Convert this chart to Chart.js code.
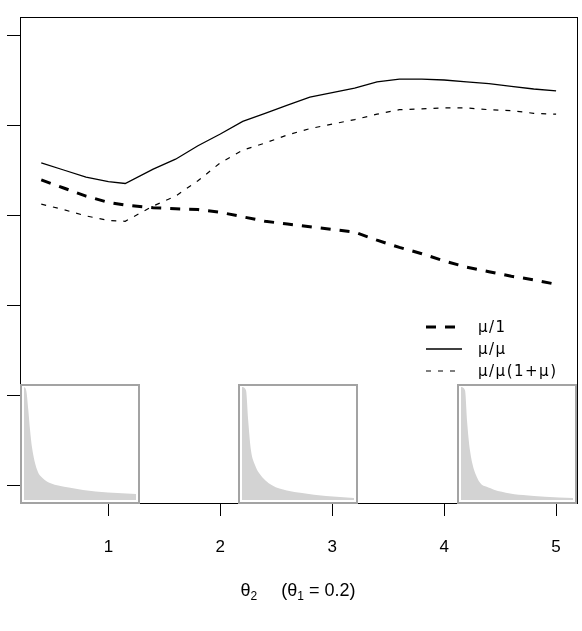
<!DOCTYPE html>
<html><head><meta charset="utf-8">
<script src="https://cdn.jsdelivr.net/npm/chart.js@4.4.1/dist/chart.umd.min.js"></script>
<style>
html,body{margin:0;padding:0;background:#fff;}
#wrap{position:relative;width:582px;height:631px;overflow:hidden;font-family:'Liberation Sans',Arial,sans-serif;}
#main{position:absolute;left:0;top:0;}
.inset{position:absolute;top:384px;width:120px;height:120px;box-sizing:border-box;border:2px solid #a3a3a3;background:#fff;}
.inset canvas{display:block;}
.lg{position:absolute;left:426px;height:20px;font-family:'DejaVu Sans',sans-serif;font-size:15px;letter-spacing:1.5px;line-height:20px;color:#000;white-space:nowrap;}
.lg svg{position:absolute;left:0;top:0;}
.lg span{position:absolute;left:52px;top:0;}
#xtitle{position:absolute;left:198px;top:580px;width:200px;text-align:center;font-size:18px;line-height:20px;color:#000;white-space:nowrap;}
#xtitle sub{font-size:12px;vertical-align:-4px;line-height:0;}
</style></head>
<body>
<div id="wrap">
<canvas id="main" width="582" height="631"></canvas>
<div class="inset" style="left:20px"><canvas id="in1" width="116" height="116"></canvas></div>
<div class="inset" style="left:238px"><canvas id="in2" width="116" height="116"></canvas></div>
<div class="inset" style="left:457px"><canvas id="in3" width="116" height="116"></canvas></div>
<div id="legend"></div>
<div id="xtitle"></div>
</div>
<script>
// ---- data ----
const thetaX = [0.4,0.6,0.8,1.0,1.15,1.4,1.6,1.8,2.0,2.2,2.4,2.6,2.8,3.0,3.2,3.4,3.6,3.8,4.0,4.2,4.4,4.6,4.8,5.0];
const seriesMu1 = [3.39,3.30,3.21,3.14,3.11,3.08,3.07,3.06,3.03,2.98,2.93,2.90,2.87,2.84,2.81,2.72,2.64,2.57,2.49,2.42,2.37,2.32,2.28,2.23];
const seriesMuMu = [3.58,3.50,3.42,3.37,3.35,3.51,3.62,3.77,3.90,4.04,4.13,4.22,4.31,4.36,4.41,4.48,4.51,4.51,4.50,4.48,4.46,4.43,4.40,4.38];
const seriesMuMu1 = [3.12,3.06,2.99,2.94,2.93,3.10,3.21,3.38,3.58,3.72,3.80,3.89,3.96,4.01,4.06,4.12,4.17,4.18,4.19,4.19,4.17,4.16,4.13,4.12];
const seriesNames = ['\u03bc/1', '\u03bc/\u03bc', '\u03bc/\u03bc(1+\u03bc)'];
const xTickValues = [1,2,3,4,5];
const xTickLabels = ['1','2','3','4','5'];
const yTickValues = [0,1,2,3,4,5];
const xTitleMain = '\u03b8';
const xTitleSub = '2';
const xTitleNote = ['(\u03b8', '1', ' = 0.2)'];
// inset densities (relative position, relative height)
const inset1X = [0,0.02,0.038,0.054,0.071,0.116,0.17,0.232,0.4,0.527,0.75,1.0];
const inset1Y = [1.0,0.97,0.80,0.62,0.47,0.27,0.19,0.15,0.11,0.088,0.066,0.053];
const inset2X = [0,0.036,0.054,0.08,0.116,0.152,0.268,0.4,0.536,0.75,1.0];
const inset2Y = [1.0,0.97,0.72,0.44,0.31,0.24,0.13,0.085,0.062,0.035,0.018];
const inset3X = [0,0.036,0.054,0.08,0.143,0.259,0.4,0.554,0.75,1.0];
const inset3Y = [1.0,0.97,0.70,0.44,0.20,0.106,0.065,0.044,0.028,0.018];

// ---- styles ----
const styles = [
  {width:3, dash:[10,9]},
  {width:1.3, dash:[]},
  {width:1.2, dash:[5,7]}
];
const seriesData = [seriesMu1, seriesMuMu, seriesMuMu1];

const pts = arr => arr.map((v,i)=>({x:thetaX[i], y:v}));
const FONT = "'Liberation Sans', Arial, sans-serif";

new Chart(document.getElementById('main'), {
  type:'line',
  data:{ datasets: seriesData.map((s,i)=>({
    label: seriesNames[i], data: pts(s), borderColor:'#000', borderWidth: styles[i].width,
    borderDash: styles[i].dash, pointRadius:0, tension:0, fill:false, xAxisID:'x', yAxisID:'y'
  }))},
  options:{
    responsive:false, animation:false, devicePixelRatio:1,
    layout:{padding:{top:17,right:2,left:0,bottom:0}},
    plugins:{legend:{display:false}, tooltip:{enabled:false}},
    scales:{
      x:{type:'linear', position:'bottom', min:0.21, max:5.19,
        afterBuildTicks: s => { s.ticks = xTickValues.map(v=>({value:v})); },
        afterFit: s => { s.height = 128; },
        ticks:{color:'#000', font:{family:FONT, size:17}, padding:21, maxRotation:0,
          callback:(v)=> xTickLabels[xTickValues.indexOf(v)] ?? ''},
        grid:{drawOnChartArea:false, drawTicks:true, tickLength:13, color:'#000', tickWidth:1},
        border:{display:true, color:'#000', width:1}
      },
      y:{type:'linear', position:'left', min:-0.2, max:5.2,
        afterBuildTicks: s => { s.ticks = yTickValues.map(v=>({value:v})); },
        afterFit: s => { s.width = 20; },
        ticks:{display:false},
        grid:{drawOnChartArea:false, drawTicks:true, tickLength:13, color:'#000', tickWidth:1},
        border:{display:true, color:'#000', width:1}
      },
      x2:{type:'linear', position:'top', display:true, afterFit: s => { s.height = 0; },
        ticks:{display:false}, grid:{display:false}, border:{display:true, color:'#000', width:1}},
      y2:{type:'linear', position:'right', display:true, afterFit: s => { s.width = 0; },
        ticks:{display:false}, grid:{display:false}, border:{display:true, color:'#000', width:1}}
    }
  }
});

function makeInset(id, xs, ys){
  new Chart(document.getElementById(id), {
    type:'line',
    data:{datasets:[{data: xs.map((x,i)=>({x:x,y:ys[i]})), borderWidth:0, borderColor:'rgba(0,0,0,0)',
      backgroundColor:'#d3d3d3', fill:'origin', pointRadius:0, cubicInterpolationMode:'monotone'}]},
    options:{responsive:false, animation:false, devicePixelRatio:1,
      layout:{padding:{left:2,right:2,top:1,bottom:2}},
      plugins:{legend:{display:false}, tooltip:{enabled:false}},
      scales:{x:{type:'linear', display:false, min:0, max:1}, y:{type:'linear', display:false, min:0, max:1}}}
  });
}
makeInset('in1', inset1X, inset1Y);
makeInset('in2', inset2X, inset2Y);
makeInset('in3', inset3X, inset3Y);

// legend overlay
const legendTops = [317, 339, 361];
const lg = document.getElementById('legend');
seriesNames.forEach((name,i)=>{
  const d = document.createElement('div');
  d.className = 'lg'; d.style.top = legendTops[i]+'px';
  const st = styles[i];
  d.innerHTML = '<svg width="40" height="20"><line x1="0" y1="10" x2="36" y2="10" stroke="#000" stroke-width="'+st.width+'"'+
    (st.dash.length? ' stroke-dasharray="'+st.dash.join(',')+'"' : '')+'/></svg><span>'+name+'</span>';
  lg.appendChild(d);
});

// x-axis title
document.getElementById('xtitle').innerHTML =
  xTitleMain + '<sub>' + xTitleSub + '</sub>' + '<span style="display:inline-block;width:24px"></span>' +
  xTitleNote[0] + '<sub>' + xTitleNote[1] + '</sub>' + xTitleNote[2];
</script>
</body></html>
